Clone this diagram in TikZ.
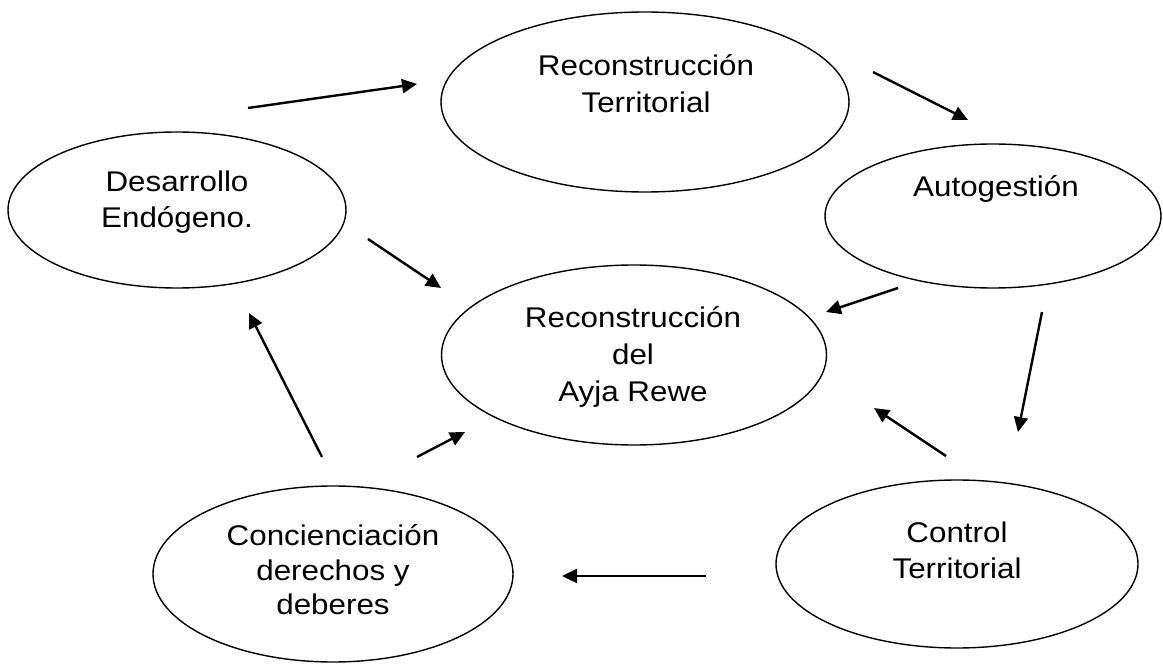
\documentclass[tikz,border=0pt]{standalone}
\usepackage{fontspec}
\setmainfont{Liberation Sans}[FakeStretch=1.1]
\usetikzlibrary{shapes.geometric,arrows.meta}
\tikzset{
  bubble/.style={ellipse,draw,line width=1.4pt,inner sep=0pt},
  lbl/.style={anchor=base,inner sep=0pt,font=\fontsize{28.5pt}{34pt}\selectfont},
  arr/.style={line width=2.4pt,-{Triangle[length=15pt,width=14pt]}}
}
\begin{document}
\begin{tikzpicture}[x=1pt,y=-1pt]
\useasboundingbox (0,0) rectangle (1163,668);
% ellipses
\node[bubble,minimum width=408pt,minimum height=180pt] (rt) at (645,102) {};
\node[bubble,minimum width=338pt,minimum height=156pt] (de) at (177,210) {};
\node[bubble,minimum width=336pt,minimum height=144pt] (au) at (993,216) {};
\node[bubble,minimum width=385pt,minimum height=180pt] (ar) at (634,355) {};
\node[bubble,minimum width=360pt,minimum height=176pt] (co) at (333,574) {};
\node[bubble,minimum width=362pt,minimum height=168pt] (ct) at (957,564) {};
% labels
\node[lbl] (rt1) at (646,76) {Reconstrucción};
\node[lbl] (rt2) at (646,113) {Territorial};
\node[lbl] (de1) at (177,192) {Desarrollo};
\node[lbl] (de2) at (177,228) {Endógeno.};
\node[lbl] (au1) at (996,197) {Autogestión};
\node[lbl] (ar1) at (633,328) {Reconstrucción};
\node[lbl] (ar2) at (633,365) {del};
\node[lbl] (ar3) at (633,402) {Ayja Rewe};
\node[lbl] (co1) at (333,545) {Concienciación};
\node[lbl] (co2) at (333,580) {derechos y};
\node[lbl] (co3) at (333,614) {deberes};
\node[lbl] (ct1) at (957,542) {Control};
\node[lbl] (ct2) at (957,578) {Territorial};
% arrow end points
\coordinate (a1s) at (248,108); \coordinate (a1e) at (417,84);
\coordinate (a2s) at (873,72);  \coordinate (a2e) at (968,120);
\coordinate (a3s) at (898,288); \coordinate (a3e) at (826,312);
\coordinate (a4s) at (1042,312); \coordinate (a4e) at (1018,432);
\coordinate (a5s) at (946,456); \coordinate (a5e) at (874,408);
\coordinate (a6s) at (706,576); \coordinate (a6e) at (562,576);
\coordinate (a7s) at (417,457); \coordinate (a7e) at (465,432);
\coordinate (a8s) at (322,457); \coordinate (a8e) at (249,313);
\coordinate (a9s) at (368,239); \coordinate (a9e) at (441,288);
\draw[arr] (a1s) -- (a1e);
\draw[arr] (a2s) -- (a2e);
\draw[arr] (a3s) -- (a3e);
\draw[arr] (a4s) -- (a4e);
\draw[arr] (a5s) -- (a5e);
\draw[arr] (a6s) -- (a6e);
\draw[arr] (a7s) -- (a7e);
\draw[arr] (a8s) -- (a8e);
\draw[arr] (a9s) -- (a9e);
\end{tikzpicture}
\end{document}
